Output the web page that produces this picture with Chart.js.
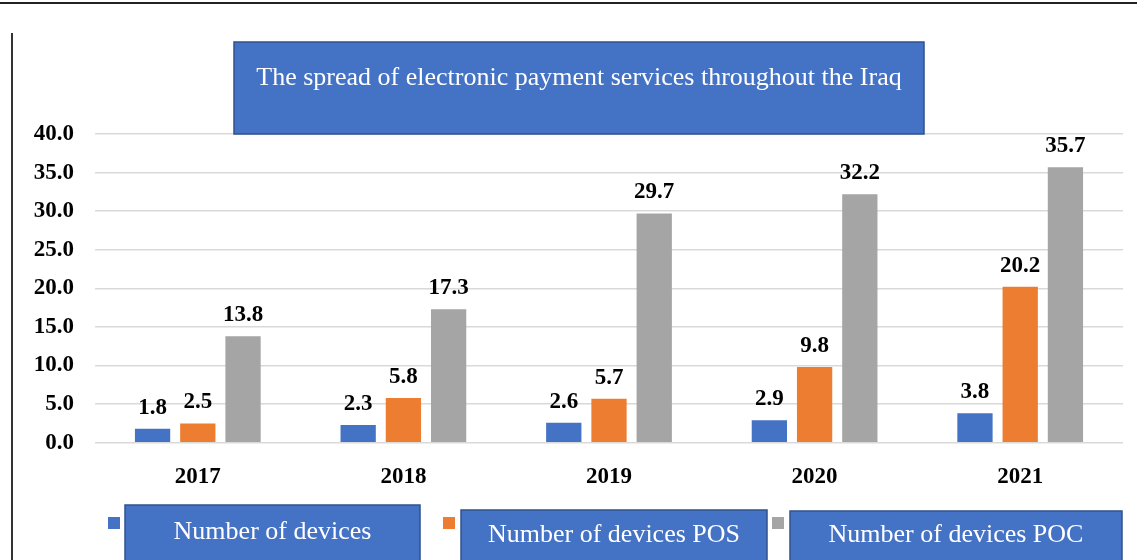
<!DOCTYPE html>
<html>
<head>
<meta charset="utf-8">
<title>Electronic payment services in Iraq</title>
<script src="https://cdn.jsdelivr.net/npm/chart.js@4.4.1/dist/chart.umd.min.js"></script>
<style>
html,body{margin:0;padding:0;background:#fff;}
#wrap{position:relative;width:1137px;height:560px;}
</style>
</head>
<body>
<div id="wrap"><canvas id="myChart"></canvas></div>
<script>
// data
var years=['2017','2018','2019','2020','2021'];
var devices=[1.8,2.3,2.6,2.9,3.8];
var devicesPOS=[2.5,5.8,5.7,9.8,20.2];
var devicesPOC=[13.8,17.3,29.7,32.2,35.7];
var seriesNames=['Number of devices','Number of devices POS','Number of devices POC'];
var chartTitle='The spread of electronic payment services throughout the Iraq';

var colors=['#4472C4','#ED7D31','#A5A5A5'];
var serif='"Liberation Serif","Times New Roman",serif';

// boxes drawn over the chart (title + legend), like in the original picture
var decor={
    id:'decor',
    afterDraw:function(chart){
        var ctx=chart.ctx;
        ctx.save();

        // frame lines
        ctx.fillStyle='#222';
        ctx.fillRect(0,2,1137,2);
        ctx.fillStyle='#333';
        ctx.fillRect(11,33,2,527);

        // value labels above the bars
        ctx.fillStyle='#000';
        ctx.font='bold 23px '+serif;
        ctx.textAlign='center';
        ctx.textBaseline='middle';
        chart.data.datasets.forEach(function(ds,i){
            var meta=chart.getDatasetMeta(i);
            meta.data.forEach(function(bar,j){
                ctx.fillText(ds.data[j].toFixed(1),bar.x,bar.y-21);
            });
        });

        // title box
        ctx.fillStyle='#4472C4';
        ctx.fillRect(234,42,690,92);
        ctx.strokeStyle='#2F528F';
        ctx.lineWidth=1.5;
        ctx.strokeRect(234,42,690,92);
        ctx.fillStyle='#fff';
        ctx.font='26px '+serif;
        ctx.fillText(chartTitle,579,78);

        // legend
        var sqX=[108,443,772];
        var boxes=[[125,505,295,532],[461,510,306,535],[790,511,332,535]];
        chart.data.datasets.forEach(function(ds,i){
            ctx.fillStyle=ds.backgroundColor;
            ctx.fillRect(sqX[i],517,12,12);
            var b=boxes[i];
            ctx.fillStyle='#4472C4';
            ctx.fillRect(b[0],b[1],b[2],70);
            ctx.strokeStyle='#2F528F';
            ctx.strokeRect(b[0],b[1],b[2],70);
            ctx.fillStyle='#fff';
            ctx.font='26px '+serif;
            ctx.fillText(ds.label,b[0]+b[2]/2,b[3]);
        });
        ctx.restore();
    }
};

var ctx=document.getElementById('myChart').getContext('2d');
var chart=new Chart(ctx,{
    type:'bar',
    data:{
        labels:years,
        datasets:[
            {label:seriesNames[0],data:devices,backgroundColor:colors[0]},
            {label:seriesNames[1],data:devicesPOS,backgroundColor:colors[1]},
            {label:seriesNames[2],data:devicesPOC,backgroundColor:colors[2]}
        ]
    },
    options:{
        responsive:true,
        maintainAspectRatio:false,
        animation:false,
        devicePixelRatio:1,
        layout:{padding:{top:134,right:14,left:0,bottom:0}},
        datasets:{bar:{barPercentage:0.78,categoryPercentage:0.66}},
        plugins:{
            legend:{display:false},
            title:{display:false},
            tooltip:{enabled:false}
        },
        scales:{
            x:{
                grid:{display:false},
                border:{display:false},
                ticks:{color:'#000',font:{family:serif,size:23,weight:'bold'},padding:13},
                afterFit:function(s){s.height=117.3;}
            },
            y:{
                min:0,
                max:40,
                grid:{color:'#d9d9d9',lineWidth:1.5,drawTicks:false},
                border:{display:false},
                ticks:{
                    stepSize:5,
                    color:'#000',
                    font:{family:serif,size:23,weight:'bold'},
                    padding:21,
                    callback:function(v){return v.toFixed(1);}
                },
                afterFit:function(s){s.width=95;}
            }
        }
    },
    plugins:[decor]
});
</script>
</body>
</html>
